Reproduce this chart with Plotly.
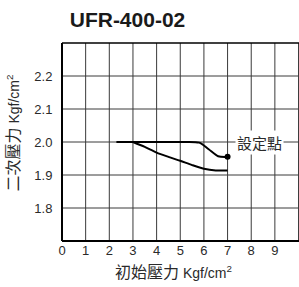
import plotly.graph_objects as go

# Data
upper_x = [2.3, 3.0, 4.0, 5.0, 5.8, 6.2, 6.6, 7.0]
upper_y = [2.0, 2.0, 2.0, 2.0, 1.998, 1.978, 1.957, 1.955]
lower_x = [3.0, 3.5, 4.0, 4.5, 5.0, 5.5, 6.0, 6.5, 7.0]
lower_y = [2.0, 1.985, 1.968, 1.955, 1.943, 1.93, 1.919, 1.914, 1.914]
set_point = (7.0, 1.955)
x_ticks = [0, 1, 2, 3, 4, 5, 6, 7, 8, 9]
y_ticks = [1.8, 1.9, 2.0, 2.1, 2.2]
x_grid = [1, 2, 3, 4, 5, 6, 7, 8, 9, 10]
title = "UFR-400-02"
x_title_cjk = "初始壓力"
y_title_cjk = "二次壓力"
unit = "Kgf/cm<sup>2</sup>"
label = "設定點"

font_fam = "Liberation Sans, Noto Sans CJK TC, Arial, sans-serif"
txt = "#2a2a2a"
grid_col = "#3a3a3a"

fig = go.Figure()
fig.add_trace(go.Scatter(x=upper_x, y=upper_y, mode="lines",
                         line=dict(color="black", width=2, shape="spline", smoothing=0.8),
                         showlegend=False, hoverinfo="skip"))
fig.add_trace(go.Scatter(x=lower_x, y=lower_y, mode="lines",
                         line=dict(color="black", width=2, shape="spline", smoothing=0.8),
                         showlegend=False, hoverinfo="skip"))
fig.add_trace(go.Scatter(x=[set_point[0]], y=[set_point[1]], mode="markers",
                         marker=dict(color="black", size=6),
                         showlegend=False, hoverinfo="skip"))

# grid lines through the axes' scales
for gx in x_grid:
    fig.add_shape(type="line", xref="x", yref="paper", x0=gx, x1=gx, y0=0, y1=1,
                  layer="below", line=dict(color=grid_col, width=1))
for gy in y_ticks:
    fig.add_shape(type="line", xref="paper", yref="y", x0=0, x1=1, y0=gy, y1=gy,
                  layer="below", line=dict(color=grid_col, width=1))
# frame: left, bottom, top
fig.add_shape(type="line", xref="paper", yref="paper", x0=0, x1=0, y0=0, y1=1,
              line=dict(color="black", width=2))
fig.add_shape(type="line", xref="paper", yref="paper", x0=0, x1=1, y0=0, y1=0,
              line=dict(color="black", width=2))
fig.add_shape(type="line", xref="paper", yref="paper", x0=0, x1=1, y0=1, y1=1,
              line=dict(color="black", width=1.5))

fig.add_annotation(x=8.33, y=2.0, xref="x", yref="y", text=label, showarrow=False,
                   font=dict(family="Noto Sans CJK TC", size=15, color=txt),
                   bgcolor="white", borderpad=1)
fig.add_annotation(x=(173.5 - 62) / 237, y=-(272 - 241) / 198, xref="paper", yref="paper",
                   text='<span style="font-size:16px">' + x_title_cjk + '</span> ' + unit,
                   showarrow=False, font=dict(family=font_fam, size=14, color=txt),
                   xanchor="center", yanchor="middle")
fig.add_annotation(x=-(62 - 13.5) / 237, y=(241 - 133) / 198, xref="paper", yref="paper",
                   text='<span style="font-size:16px">' + y_title_cjk + '</span> ' + unit,
                   showarrow=False, textangle=-90,
                   font=dict(family=font_fam, size=14, color=txt),
                   xanchor="center", yanchor="middle")

fig.update_layout(
    width=299, height=287,
    margin=dict(l=62, r=0, t=43, b=46, autoexpand=False),
    paper_bgcolor="white", plot_bgcolor="white",
    title=dict(text="<b>" + title + "</b>", x=127.5 / 299, xanchor="center", y=1 - 19.5 / 287,
               yanchor="middle",
               font=dict(family="Liberation Sans, Arial", size=21, color="#1a1a1a")),
    xaxis=dict(range=[0, 10.02], tickvals=x_ticks, ticks="", showgrid=False,
               zeroline=False, showline=False,
               tickfont=dict(family=font_fam, size=13, color=txt)),
    yaxis=dict(range=[1.7, 2.3], tickvals=y_ticks, tickformat=".1f",
               ticks="outside", ticklen=6, tickcolor="white",
               showgrid=False, zeroline=False, showline=False,
               tickfont=dict(family=font_fam, size=13, color=txt)),
)

fig.write_html("out.html", post_script="document.body.style.margin='0';",
               config={"displayModeBar": False})
